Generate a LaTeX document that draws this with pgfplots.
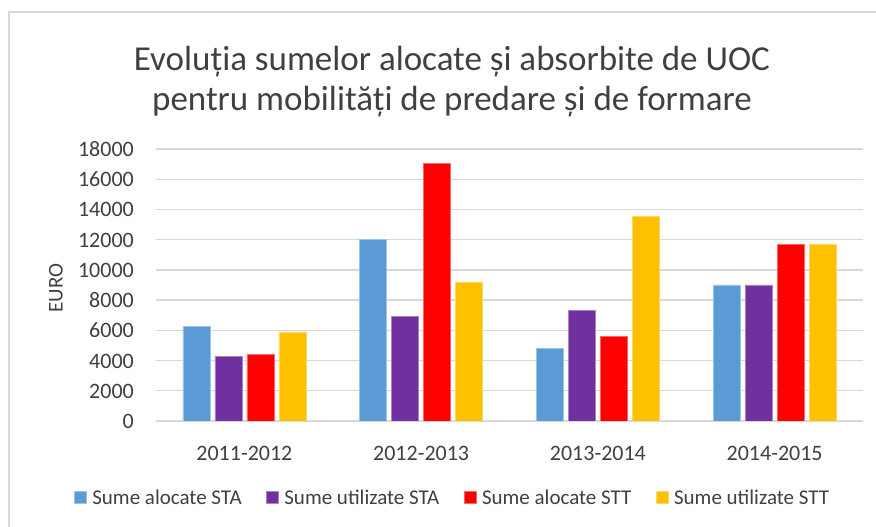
\documentclass[border=0pt]{standalone}
\usepackage{fontspec}
\setmainfont{Carlito}
\usepackage{pgfplots}
\pgfplotsset{compat=1.18}
\definecolor{cblue}{HTML}{5B9BD5}
\definecolor{cpurple}{HTML}{7030A0}
\definecolor{cred}{HTML}{FF0000}
\definecolor{cyellow}{HTML}{FFC000}
\definecolor{cgrid}{HTML}{D9D9D9}
\definecolor{ctext}{HTML}{404040}
\begin{document}
\begin{tikzpicture}
\useasboundingbox (0,0) rectangle (876bp,527bp);
\clip (0,0) rectangle (876bp,527bp);
\fill[white] (0,0) rectangle (876bp,527bp);
\draw[cgrid, line width=1.2bp] (9bp,-20bp) rectangle (900bp,515bp);
\node[text=ctext, font=\fontsize{35bp}{40bp}\selectfont] at (452bp,465bp) {Evoluția sumelor alocate și absorbite de UOC};
\node[text=ctext, font=\fontsize{35bp}{40bp}\selectfont] at (452bp,425bp) {pentru mobilități de predare și de formare};
\node[text=ctext, rotate=90, font=\fontsize{21bp}{24bp}\selectfont] at (56bp,239bp) {EURO};
\begin{axis}[
  at={(156bp,106bp)}, anchor=south west,
  scale only axis, width=707bp, height=272bp,
  xmin=-0.5, xmax=3.5, ymin=0, ymax=18000,
  axis line style={draw=none},
  ymajorgrids, grid style={cgrid, line width=1.4bp},
  ytick={0,2000,...,18000},
  xtick={0,1,2,3},
  xticklabels={2011-2012,2012-2013,2013-2014,2014-2015},
  major tick length=0pt,
  /pgf/number format/assume math mode=true,
  scaled y ticks=false,
  yticklabel={\pgfmathprintnumber[fixed,1000 sep={}]{\tick}},
  tick label style={text=ctext, font=\fontsize{22bp}{26bp}\selectfont},
  yticklabel style={anchor=base east, inner sep=0pt, xshift=-22bp, yshift=-7.5bp},
  xticklabel style={anchor=base, inner sep=0pt, yshift=-39.5bp},
  ybar, bar width=27bp,
  legend columns=4,
  legend style={at={(0.42,-0.283)}, anchor=center, draw=none, fill=none,
    font=\fontsize{21bp}{24bp}\selectfont, text=ctext,
    /tikz/every even column/.append style={column sep=22bp},
    nodes={inner sep=2.5bp}},
  legend image code/.code={\fill[#1] (0bp,-5bp) rectangle (12bp,7bp);},
]
\addplot[fill=cblue, draw=cblue!60!white, line width=0.6bp, bar shift=-48bp] coordinates {(0,6250) (1,12000) (2,4800) (3,9000)};
\addplot[fill=cpurple, draw=cpurple!60!white, line width=0.6bp, bar shift=-16bp] coordinates {(0,4250) (1,6900) (2,7300) (3,9000)};
\addplot[fill=cred, draw=cred!60!white, line width=0.6bp, bar shift=16bp] coordinates {(0,4400) (1,17050) (2,5600) (3,11700)};
\addplot[fill=cyellow, draw=cyellow!60!white, line width=0.6bp, bar shift=48bp] coordinates {(0,5900) (1,9200) (2,13550) (3,11700)};
\legend{{\hspace{3bp}Sume alocate STA}, {\hspace{3bp}Sume utilizate STA}, {\hspace{3bp}Sume alocate STT}, {\hspace{3bp}Sume utilizate STT}}
\end{axis}
\end{tikzpicture}
\end{document}
